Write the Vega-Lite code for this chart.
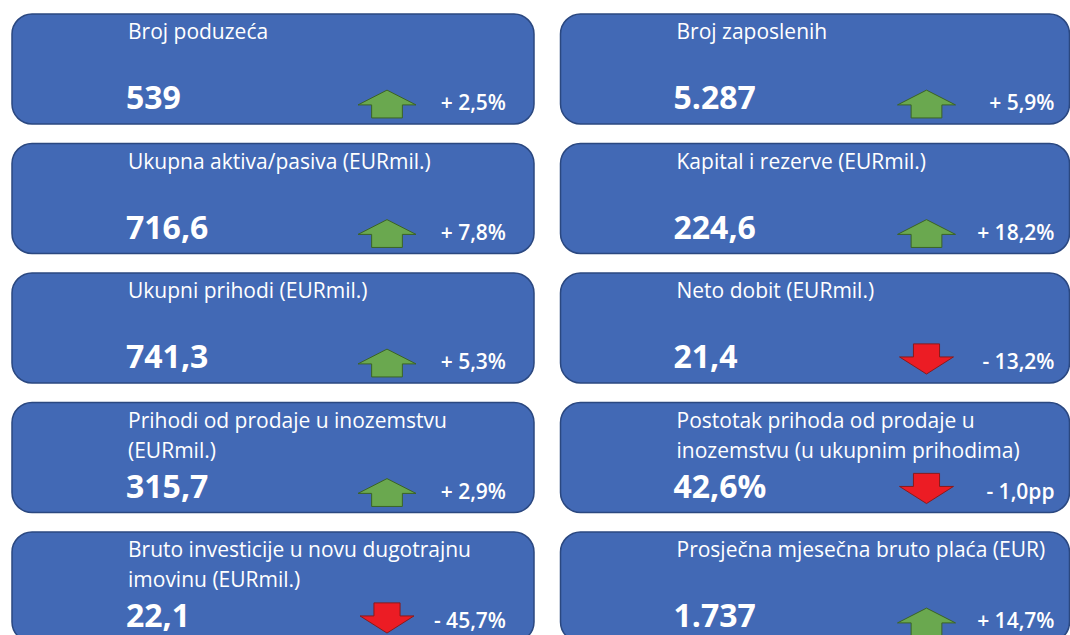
{
  "$schema": "https://vega.github.io/schema/vega-lite/v6.json",
  "padding": {"left": 11, "top": 13, "right": 0, "bottom": 0},
  "background": "white",
  "spacing": 24.5,
  "data": {
    "values": [
      {"col": "L", "row": 1, "title": "Broj poduzeća", "value": "539", "change": "+ 2,5%", "dir": "up"},
      {"col": "R", "row": 1, "title": "Broj zaposlenih", "value": "5.287", "change": "+ 5,9%", "dir": "up"},
      {"col": "L", "row": 2, "title": "Ukupna aktiva/pasiva (EURmil.)", "value": "716,6", "change": "+ 7,8%", "dir": "up"},
      {"col": "R", "row": 2, "title": "Kapital i rezerve (EURmil.)", "value": "224,6", "change": "+ 18,2%", "dir": "up"},
      {"col": "L", "row": 3, "title": "Ukupni prihodi (EURmil.)", "value": "741,3", "change": "+ 5,3%", "dir": "up"},
      {"col": "R", "row": 3, "title": "Neto dobit (EURmil.)", "value": "21,4", "change": "- 13,2%", "dir": "down"},
      {"col": "L", "row": 4, "title": "Prihodi od prodaje u inozemstvu\n(EURmil.)", "value": "315,7", "change": "+ 2,9%", "dir": "up"},
      {"col": "R", "row": 4, "title": "Postotak prihoda od prodaje u\ninozemstvu (u ukupnim prihodima)", "value": "42,6%", "change": "- 1,0pp", "dir": "down"},
      {"col": "L", "row": 5, "title": "Bruto investicije u novu dugotrajnu\nimovinu (EURmil.)", "value": "22,1", "change": "- 45,7%", "dir": "down"},
      {"col": "R", "row": 5, "title": "Prosječna mjesečna bruto plaća (EUR)", "value": "1.737", "change": "+ 14,7%", "dir": "up"}
    ]
  },
  "config": {
    "view": {"fill": "#4269b5", "stroke": "#2b4880", "strokeWidth": 1.5, "cornerRadius": 20},
    "text": {"font": "Open Sans", "color": "white"}
  },
  "hconcat": [
    {
      "transform": [{"filter": "datum.col == 'L'"}],
      "facet": {"row": {"field": "row", "type": "ordinal", "header": null}},
      "spacing": {"row": 17.5},
      "spec": {
        "width": 522,
        "height": 110,
        "layer": [
          {
            "mark": {"type": "text", "align": "left", "baseline": "alphabetic", "fontSize": 21, "lineBreak": "\n", "lineHeight": 30},
            "encoding": {"text": {"field": "title"}, "x": {"value": 116}, "y": {"value": 25}}
          },
          {
            "mark": {"type": "text", "align": "left", "baseline": "alphabetic", "fontSize": 32, "fontWeight": "bold"},
            "encoding": {"text": {"field": "value"}, "x": {"value": 114}, "y": {"value": 95}}
          },
          {
            "mark": {"type": "text", "align": "right", "baseline": "alphabetic", "fontSize": 21, "fontWeight": 600},
            "encoding": {"text": {"field": "change"}, "x": {"value": 494}, "y": {"value": 96}}
          },
          {
            "mark": {"type": "point", "filled": true, "opacity": 1, "strokeWidth": 1, "size": 3364},
            "encoding": {
              "x": {"value": 375},
              "y": {"value": 88},
              "shape": {"field": "dir", "type": "nominal", "legend": null, "scale": {"domain": ["up", "down"], "range": ["M0,-0.41 L1,0.1 L0.53,0.1 L0.53,0.55 L-0.53,0.55 L-0.53,0.1 L-1,0.1 Z", "M-0.45,-0.59 L0.45,-0.59 L0.45,-0.14 L0.93,-0.14 L0,0.45 L-0.93,-0.14 L-0.45,-0.14 Z"]}},
              "fill": {"field": "dir", "type": "nominal", "legend": null, "scale": {"domain": ["up", "down"], "range": ["#6aa84f", "#ec1c24"]}},
              "stroke": {"field": "dir", "type": "nominal", "legend": null, "scale": {"domain": ["up", "down"], "range": ["#3b6326", "#8a1a1a"]}}
            }
          }
        ]
      }
    },
    {
      "transform": [{"filter": "datum.col == 'R'"}],
      "facet": {"row": {"field": "row", "type": "ordinal", "header": null}},
      "spacing": {"row": 17.5},
      "spec": {
        "width": 509,
        "height": 110,
        "layer": [
          {
            "mark": {"type": "text", "align": "left", "baseline": "alphabetic", "fontSize": 21, "lineBreak": "\n", "lineHeight": 30},
            "encoding": {"text": {"field": "title"}, "x": {"value": 116}, "y": {"value": 25}}
          },
          {
            "mark": {"type": "text", "align": "left", "baseline": "alphabetic", "fontSize": 32, "fontWeight": "bold"},
            "encoding": {"text": {"field": "value"}, "x": {"value": 113}, "y": {"value": 95}}
          },
          {
            "mark": {"type": "text", "align": "right", "baseline": "alphabetic", "fontSize": 21, "fontWeight": 600},
            "encoding": {"text": {"field": "change"}, "x": {"value": 494}, "y": {"value": 96}}
          },
          {
            "mark": {"type": "point", "filled": true, "opacity": 1, "strokeWidth": 1, "size": 3364},
            "encoding": {
              "x": {"value": 366},
              "y": {"value": 88},
              "shape": {"field": "dir", "type": "nominal", "legend": null, "scale": {"domain": ["up", "down"], "range": ["M0,-0.41 L1,0.1 L0.53,0.1 L0.53,0.55 L-0.53,0.55 L-0.53,0.1 L-1,0.1 Z", "M-0.45,-0.59 L0.45,-0.59 L0.45,-0.14 L0.93,-0.14 L0,0.45 L-0.93,-0.14 L-0.45,-0.14 Z"]}},
              "fill": {"field": "dir", "type": "nominal", "legend": null, "scale": {"domain": ["up", "down"], "range": ["#6aa84f", "#ec1c24"]}},
              "stroke": {"field": "dir", "type": "nominal", "legend": null, "scale": {"domain": ["up", "down"], "range": ["#3b6326", "#8a1a1a"]}}
            }
          }
        ]
      }
    }
  ]
}
